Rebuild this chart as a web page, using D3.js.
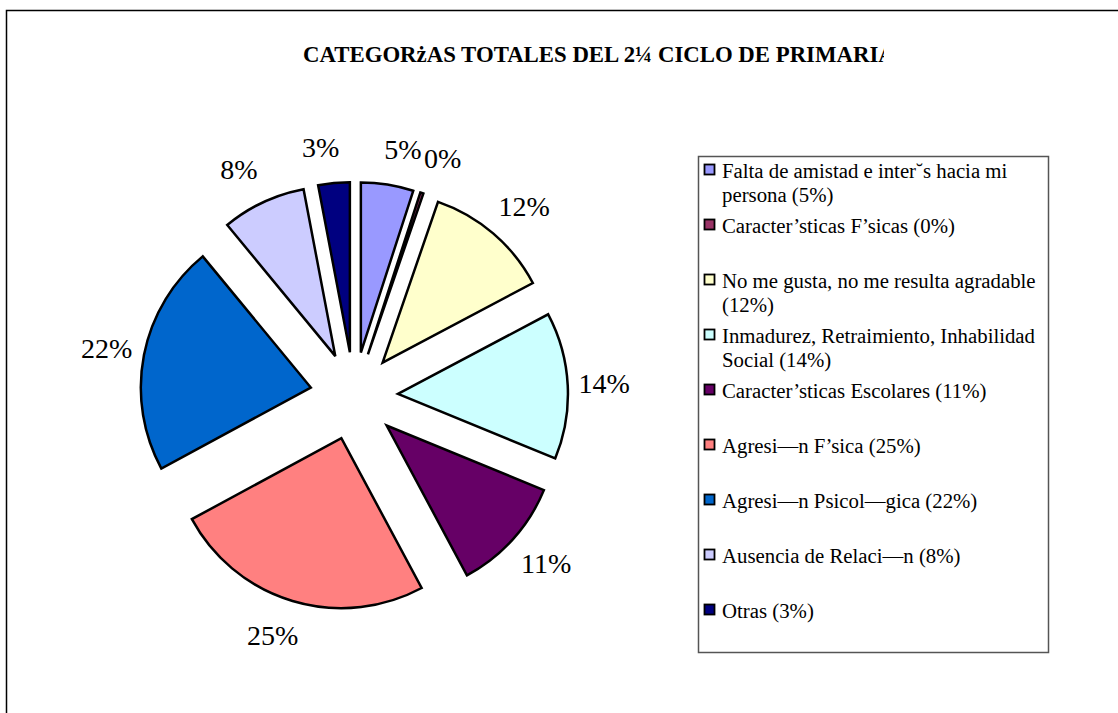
<!DOCTYPE html>
<html>
<head>
<meta charset="utf-8">
<script src="https://cdn.jsdelivr.net/npm/d3@7"></script>
<style>
  html, body { margin: 0; padding: 0; background: #fff; }
  svg { display: block; }
</style>
</head>
<body>
<svg id="chart" width="1118" height="713"></svg>
<script>
const title = "CATEGORżAS TOTALES DEL 2¼ CICLO DE PRIMARIA";
const categories = [
  "Falta de amistad e inter˘s hacia mi persona",
  "Caracter’sticas F’sicas",
  "No me gusta, no me resulta agradable",
  "Inmadurez, Retraimiento, Inhabilidad Social",
  "Caracter’sticas Escolares",
  "Agresi—n F’sica",
  "Agresi—n Psicol—gica",
  "Ausencia de Relaci—n",
  "Otras"
];
const values = [5, 0.3, 12, 14, 11, 25, 22, 8, 3];
const percentLabels = ["5%", "0%", "12%", "14%", "11%", "25%", "22%", "8%", "3%"];
const legendLines = [
  ["Falta de amistad e inter˘s hacia mi", "persona (5%)"],
  ["Caracter’sticas F’sicas (0%)"],
  ["No me gusta, no me resulta agradable", "(12%)"],
  ["Inmadurez, Retraimiento, Inhabilidad", "Social (14%)"],
  ["Caracter’sticas Escolares (11%)"],
  ["Agresi—n F’sica (25%)"],
  ["Agresi—n Psicol—gica (22%)"],
  ["Ausencia de Relaci—n (8%)"],
  ["Otras (3%)"]
];
const colors = ["#9999FF", "#993366", "#FFFFCC", "#CCFFFF", "#660066", "#FF8080", "#0066CC", "#CCCCFF", "#000080"];

const svg = d3.select("#chart");
const serif = "'Liberation Serif', 'Times New Roman', Times, serif";

// outer frame
svg.append("rect").attr("x", 6.5).attr("y", 10.5).attr("width", 1200).attr("height", 800)
  .attr("fill", "#fff").attr("stroke", "#000").attr("stroke-width", 1.5);

// title (clipped as in reference)
svg.append("clipPath").attr("id", "titleclip")
  .append("rect").attr("x", 0).attr("y", 0).attr("width", 884).attr("height", 100);
svg.append("text")
  .attr("clip-path", "url(#titleclip)")
  .attr("x", 303).attr("y", 62)
  .attr("font-family", serif).attr("font-weight", "bold").attr("font-size", 22.8)
  .attr("fill", "#000")
  .text(title);

// pie
const cx = 354, cy = 396, R = 170, explode = 44, labelR = 206, spread = 10;
const pie = d3.pie().sort(null).value(d => d)(values);
const arc = d3.arc().innerRadius(0).outerRadius(R);
const g = svg.append("g").attr("transform", `translate(${cx},${cy})`);

function mid(d) { return (d.startAngle + d.endAngle) / 2; }
function offset(d, r) {
  const a = mid(d);
  return [r * Math.sin(a), -r * Math.cos(a)];
}

g.selectAll("path.slice").data(pie).enter().append("path")
  .attr("class", "slice")
  .attr("transform", d => { const [x, y] = offset(d, explode); return `translate(${x},${y})`; })
  .attr("d", arc)
  .attr("fill", (d, i) => colors[i])
  .attr("stroke", "#000").attr("stroke-width", 2.5).attr("stroke-linejoin", "miter");

g.selectAll("text.pl").data(pie).enter().append("text")
  .attr("class", "pl")
  .attr("x", d => {
    const a = mid(d);
    return offset(d, explode)[0] + offset(d, labelR)[0] + spread * Math.sign(Math.sin(a)) * Math.abs(Math.cos(a));
  })
  .attr("y", d => offset(d, explode)[1] + offset(d, labelR)[1])
  .attr("dy", "0.34em")
  .attr("text-anchor", "middle")
  .attr("font-family", serif).attr("font-size", 28).attr("fill", "#000")
  .text((d, i) => percentLabels[i]);

// legend
const lx = 698, ly = 156, lw = 350, lh = 496;
svg.append("rect").attr("x", lx + 0.5).attr("y", ly + 0.5).attr("width", lw).attr("height", lh)
  .attr("fill", "#fff").attr("stroke", "#555").attr("stroke-width", 1.5);

const legY = d3.scaleLinear().domain([0, 8]).range([178, 618]);
const lg = svg.append("g");
legendLines.forEach((lines, i) => {
  const y = legY(i);
  lg.append("rect").attr("x", 704.5).attr("y", y - 13.5).attr("width", 10).attr("height", 10)
    .attr("fill", colors[i]).attr("stroke", "#000").attr("stroke-width", 1.8);
  const t = lg.append("text").attr("x", 722).attr("y", y)
    .attr("font-family", serif).attr("font-size", 20.8).attr("fill", "#000");
  lines.forEach((ln, j) => {
    t.append("tspan").attr("x", 722).attr("dy", j === 0 ? 0 : 23.5).text(ln);
  });
});
</script>
</body>
</html>
